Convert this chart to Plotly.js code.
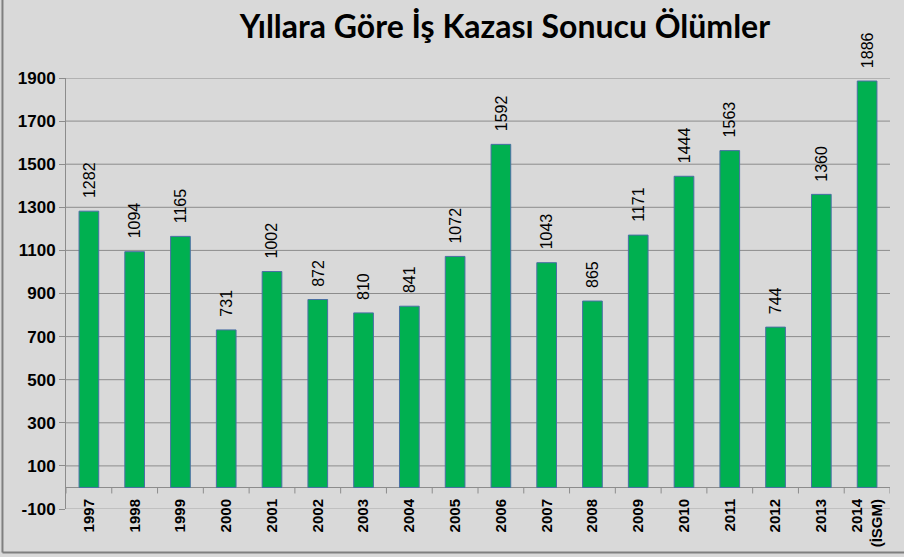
<!DOCTYPE html>
<html>
<head>
<meta charset="utf-8">
<script src="https://cdn.plot.ly/plotly-3.0.1.min.js"></script>
<style>
html,body{margin:0;padding:0;background:#D9D9D9;}
#chart{width:904px;height:557px;}
</style>
</head>
<body>
<div id="chart"></div>
<script>
const years = ['1997','1998','1999','2000','2001','2002','2003','2004','2005','2006','2007','2008','2009','2010','2011','2012','2013','2014<br>(İSGM)'];
const deaths = [1282,1094,1165,731,1002,872,810,841,1072,1592,1043,865,1171,1444,1563,744,1360,1886];
const yTicks = [-100,100,300,500,700,900,1100,1300,1500,1700,1900];
const titleText = 'Yıllara Göre İş Kazası Sonucu Ölümler';

const gridColor = '#8C8C8C';
const shapes = [];
yTicks.forEach(v => {
  shapes.push({type:'line', xref:'paper', x0:0, x1:1, yref:'y', y0:v, y1:v,
    line:{color: v < 0 ? '#A6A6A6' : gridColor, width:1}, layer:'below'});
});
for (let i = 0; i <= years.length; i++) {
  shapes.push({type:'line', xref:'x', x0:i-0.5, x1:i-0.5, yref:'y', y0:0, y1:-28,
    line:{color:gridColor, width:1}, layer:'below'});
}
shapes.push({type:'line', xref:'paper', yref:'paper', x0:-0.0771, x1:-0.0771, y0:-0.1009, y1:1.2,
  line:{color:'#7F7F7F', width:2}});
shapes.push({type:'line', xref:'paper', yref:'paper', x0:-0.0771, x1:1.03, y0:-0.1009, y1:-0.1009,
  line:{color:'#7F7F7F', width:2}});

const labelFont = {family:'Liberation Sans, Arial, sans-serif', size:16, color:'#000000'};
const annotations = deaths.map((v, i) => ({
  x: i, y: v, xref:'x', yref:'y',
  text: String(v), textangle:-90,
  showarrow:false, xanchor:'center', yanchor:'bottom', yshift:11,
  font: labelFont
}));

const trace = {
  type:'bar',
  x: years,
  y: deaths,
  marker:{color:'#00B050', line:{color:'#4A6FA5', width:1}},
  hoverinfo:'none'
};

const layout = {
  width:904, height:557,
  paper_bgcolor:'#D9D9D9',
  plot_bgcolor:'#D9D9D9',
  margin:{l:66, r:14, t:78, b:48, pad:0},
  title:{text:titleText, x:0.5586, xanchor:'center', y:0.952, yanchor:'middle',
    font:{family:'Lato', size:32, color:'#000000', weight:'bold'}},
  bargap:0.57,
  showlegend:false,
  xaxis:{
    type:'category',
    tickangle:-90,
    showgrid:false, zeroline:false, showline:false,
    ticks:'',
    ticklabelstandoff:-14,
    tickfont:{family:'Liberation Sans, Arial, sans-serif', size:15, color:'#000000', weight:'bold'},
    range:[-0.5, years.length-0.5]
  },
  yaxis:{
    range:[-100,1900],
    tickvals:yTicks,
    ticktext:yTicks.map(String),
    showgrid:false,
    zeroline:true, zerolinecolor:gridColor, zerolinewidth:1,
    showline:true, linecolor:gridColor, linewidth:1,
    ticks:'outside', ticklen:6, tickcolor:gridColor,
    tickfont:{family:'Liberation Sans, Arial, sans-serif', size:17, color:'#000000', weight:'bold'}
  },
  shapes:shapes,
  annotations:annotations
};

Plotly.newPlot('chart', [trace], layout, {displayModeBar:false, staticPlot:true});
</script>
</body>
</html>
